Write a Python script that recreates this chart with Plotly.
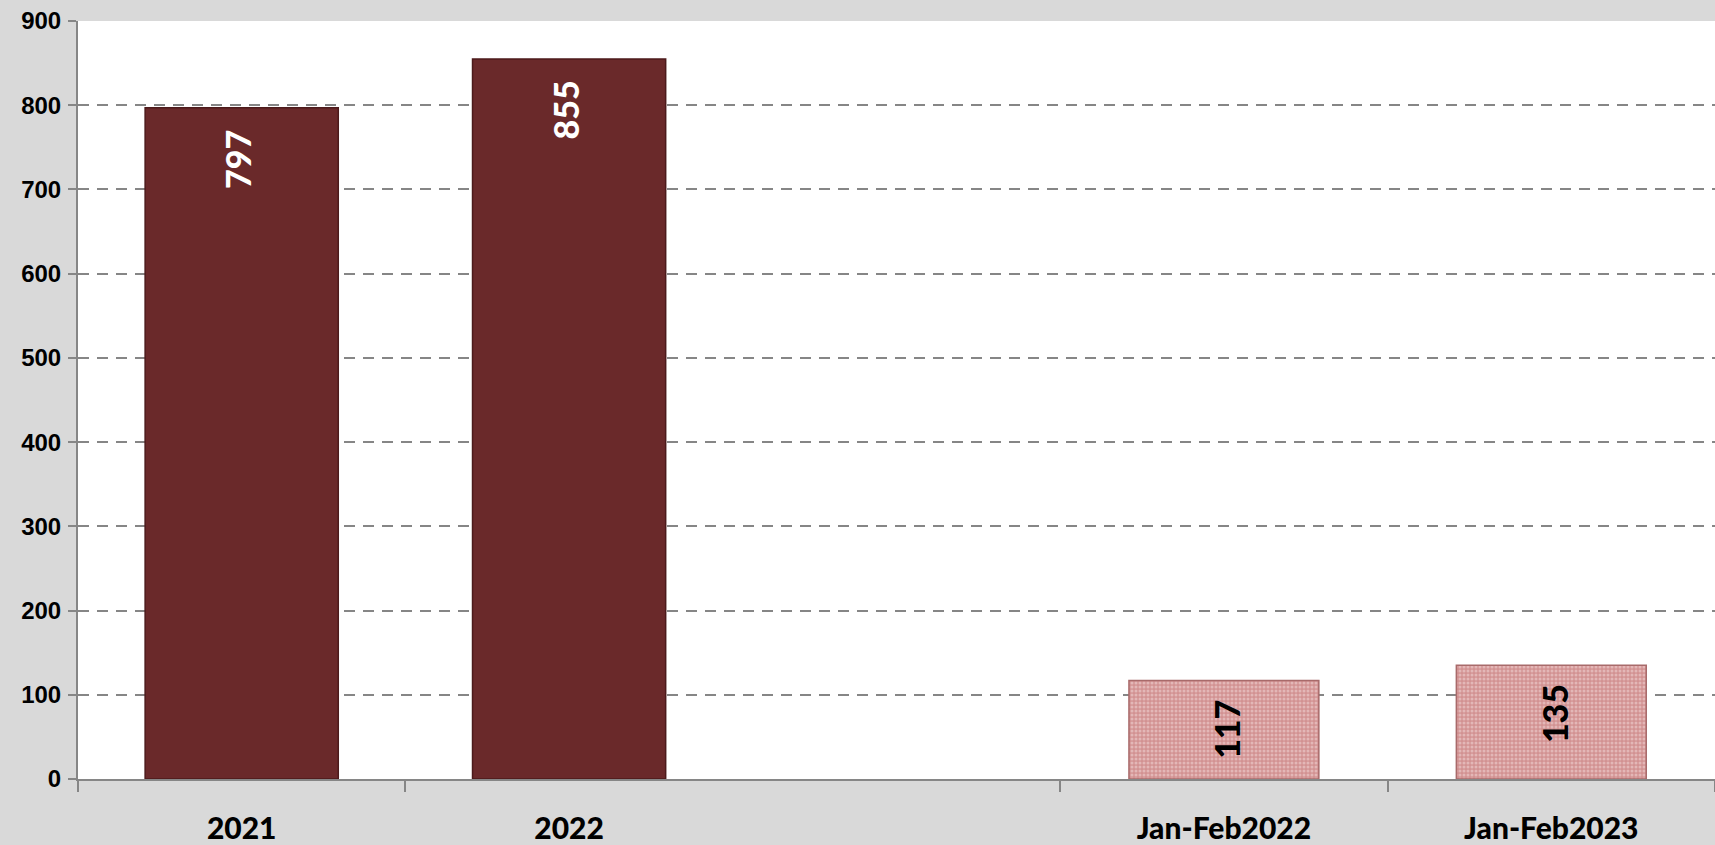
import plotly.graph_objects as go

categories = ["2021", "2022", " ", "Jan-Feb2022", "Jan-Feb2023"]
annual_x = ["2021", "2022"]
annual_vals = [797, 855]
period_x = ["Jan-Feb2022", "Jan-Feb2023"]
period_vals = [117, 135]
y_ticks = [0, 100, 200, 300, 400, 500, 600, 700, 800, 900]

GRID = "#868686"
BG = "#d9d9d9"

fig = go.Figure()
fig.add_trace(go.Bar(
    x=annual_x, y=annual_vals, width=0.59,
    marker=dict(color="#6a292a", line=dict(color="#4c1a1b", width=1.5)),
    hoverinfo="x+y", showlegend=False,
))
fig.add_trace(go.Bar(
    x=period_x, y=period_vals, width=0.58,
    marker=dict(color="#dca4a4",
                line=dict(color="#a86a6a", width=1.5),
                pattern=dict(shape=".", bgcolor="#d29292", fgcolor="#f3dcdc",
                             size=4, solidity=0.45, fillmode="overlay")),
    hoverinfo="x+y", showlegend=False,
))

annotations = []
for x, v in zip(annual_x, annual_vals):
    annotations.append(dict(x=categories.index(x), y=v, xref="x", yref="y", text=str(v),
                            textangle=-90, showarrow=False, yanchor="top",
                            xanchor="center", yshift=-20, xshift=-4,
                            font=dict(family="Lato", size=34, color="white", weight=900)))
for x, v in zip(period_x, period_vals):
    annotations.append(dict(x=categories.index(x), y=v, xref="x", yref="y", text=str(v),
                            textangle=-90, showarrow=False, yanchor="top",
                            xanchor="center", yshift=-17, xshift=3,
                            font=dict(family="Lato", size=34, color="black", weight=900)))

fig.update_layout(
    width=1715, height=845,
    paper_bgcolor=BG, plot_bgcolor="white",
    margin=dict(l=78, r=0, t=21, b=63),
    barmode="overlay",
    annotations=annotations,
    xaxis=dict(
        type="category", categoryorder="array", categoryarray=categories,
        range=[-0.5, 4.5],
        tickson="boundaries", ticks="outside", ticklen=11, tickwidth=2, tickcolor=GRID,
        showgrid=False, showline=True, linecolor=GRID, linewidth=2,
        tickfont=dict(family="Lato", size=30, color="black", weight=900),
        ticklabelstandoff=22,
        tickvals=["2021", "2022", "Jan-Feb2022", "Jan-Feb2023"],
        ticktext=["2021", "2022", "Jan-Feb2022", "Jan-Feb2023"],
    ),
    yaxis=dict(
        range=[0, 900], tickvals=y_ticks,
        ticktext=[str(t) for t in y_ticks],
        ticks="outside", ticklen=8, tickwidth=2, tickcolor=GRID,
        showline=True, linecolor=GRID, linewidth=2,
        showgrid=True, gridcolor=GRID, gridwidth=2, griddash="11px,8px",
        zeroline=False,
        tickfont=dict(family="Liberation Sans", size=24, color="black", weight="bold"),
        ticklabelstandoff=2,
    ),
)

fig.write_html("out.html", config={"displayModeBar": False},
               post_script="document.body.style.margin='0';")
